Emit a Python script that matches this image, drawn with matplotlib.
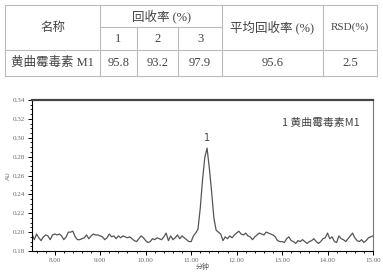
"""plot.py — ตารางอัตราการกู้คืน + โครมาโทแกรม"""
import numpy as np
import matplotlib
matplotlib.use("Agg")
import matplotlib.pyplot as plt
from matplotlib.ticker import MultipleLocator, FormatStrFormatter

# ───── Data ────────────────────────────────────────────────────────────────
table_header_name = "名称"
table_header_recovery = "回收率 (%)"
table_header_mean = "平均回收率 (%)"
table_header_rsd = "RSD(%)"
replicates = ["1", "2", "3"]
compound = "黄曲霉毒素 M1"
recoveries = [95.8, 93.2, 97.9]
mean_recovery = 95.6
rsd = 2.5

t_start, t_step = 7.5, 0.05
signal = [
    0.198, 0.192, 0.198, 0.194, 0.191, 0.195, 0.197, 0.196, 0.192, 0.197,
    0.198, 0.197, 0.198, 0.196, 0.192, 0.195, 0.200, 0.200, 0.201, 0.195,
    0.192, 0.192, 0.193, 0.194, 0.197, 0.193, 0.196, 0.198, 0.197, 0.197,
    0.196, 0.195, 0.192, 0.194, 0.198, 0.195, 0.196, 0.193, 0.196, 0.194,
    0.196, 0.195, 0.194, 0.195, 0.193, 0.191, 0.190, 0.193, 0.196, 0.194,
    0.191, 0.189, 0.190, 0.193, 0.192, 0.194, 0.193, 0.192, 0.195, 0.199,
    0.191, 0.196, 0.192, 0.194, 0.197, 0.193, 0.196, 0.194, 0.192, 0.190,
    0.190, 0.196, 0.199, 0.203, 0.225, 0.255, 0.279, 0.289, 0.268, 0.243,
    0.215, 0.202, 0.200, 0.198, 0.191, 0.195, 0.193, 0.196, 0.194, 0.197,
    0.199, 0.201, 0.198, 0.197, 0.199, 0.196, 0.195, 0.192, 0.195, 0.197,
    0.199, 0.198, 0.197, 0.200, 0.199, 0.198, 0.197, 0.195, 0.191, 0.190,
    0.190, 0.189, 0.193, 0.195, 0.191, 0.190, 0.188, 0.191, 0.190, 0.192,
    0.190, 0.188, 0.190, 0.191, 0.193, 0.190, 0.188, 0.190, 0.193, 0.194,
    0.199, 0.193, 0.195, 0.190, 0.189, 0.196, 0.193, 0.192, 0.190, 0.193,
    0.196, 0.199, 0.194, 0.191, 0.190, 0.192, 0.189, 0.191, 0.194, 0.195, 0.196,
]
peak_label = "1"
peak_time = 11.35
legend_text = "1 黄曲霉毒素M1"

CJK = ["Noto Sans CJK SC", "DejaVu Sans"]
SERIF_CJK = ["Liberation Serif", "Noto Sans CJK SC"]

W, H = 383, 279
fig = plt.figure(figsize=(W / 100, H / 100), dpi=100)

# ───── Table ───────────────────────────────────────────────────────────────
tab = fig.add_axes([0, 0, 1, 1])
tab.set_xlim(0, W)
tab.set_ylim(H, 0)
tab.axis("off")

cols = [5, 100, 137, 178, 222, 323, 377]
rows = [5, 27, 50, 76]
lc = "#bbbbbb"
lw = 0.8
for y in (rows[0], rows[2], rows[3]):
    tab.plot([cols[0], cols[-1]], [y, y], color=lc, lw=lw)
tab.plot([cols[1], cols[4]], [rows[1], rows[1]], color=lc, lw=lw)
for x in (cols[0], cols[1], cols[4], cols[5], cols[6]):
    tab.plot([x, x], [rows[0], rows[3]], color=lc, lw=lw)
for x in (cols[2], cols[3]):
    tab.plot([x, x], [rows[1], rows[3]], color=lc, lw=lw)

tc = "#444444"
fs = 9
kw = dict(ha="center", va="center", fontsize=fs, color=tc, fontweight="light")
mid12 = (rows[0] + rows[2]) / 2
tab.text((cols[0] + cols[1]) / 2, mid12, table_header_name, family=CJK, **kw)
tab.text((cols[1] + cols[4]) / 2, (rows[0] + rows[1]) / 2, table_header_recovery,
         family=SERIF_CJK, **kw)
for i, r in enumerate(replicates):
    tab.text((cols[1 + i] + cols[2 + i]) / 2, (rows[1] + rows[2]) / 2, r,
             family=SERIF_CJK, **kw)
tab.text((cols[4] + cols[5]) / 2, mid12, table_header_mean, family=SERIF_CJK, **kw)
tab.text((cols[5] + cols[6]) / 2, mid12, table_header_rsd, family=SERIF_CJK,
         **{**kw, "fontsize": fs - 1})

ry = (rows[2] + rows[3]) / 2
tab.text((cols[0] + cols[1]) / 2, ry, compound, family=SERIF_CJK, **kw)
for i, v in enumerate(recoveries):
    tab.text((cols[1 + i] + cols[2 + i]) / 2, ry, f"{v:.1f}", family=SERIF_CJK, **kw)
tab.text((cols[4] + cols[5]) / 2, ry, f"{mean_recovery:.1f}", family=SERIF_CJK, **kw)
tab.text((cols[5] + cols[6]) / 2, ry, f"{rsd:.1f}", family=SERIF_CJK, **kw)

# ───── Chromatogram ────────────────────────────────────────────────────────
ax = fig.add_axes([32 / W, 1 - 251 / H, (373 - 32) / W, (251 - 100) / H])
t = t_start + t_step * np.arange(len(signal))
ax.plot(t, signal, color="#555555", lw=0.9)

ax.set_xlim(7.5, 15.0)
ax.set_ylim(0.18, 0.34)
ax.xaxis.set_major_locator(MultipleLocator(1.0))
ax.xaxis.set_minor_locator(MultipleLocator(0.2))
ax.yaxis.set_major_locator(MultipleLocator(0.02))
ax.yaxis.set_minor_locator(MultipleLocator(0.005))
ax.xaxis.set_major_formatter(FormatStrFormatter("%.2f"))
ax.yaxis.set_major_formatter(FormatStrFormatter("%.2f"))
ax.tick_params(which="major", length=3, width=0.7, labelsize=5, labelcolor="#666666",
               pad=2)
ax.tick_params(which="minor", length=1.5, width=0.6)
for lab in ax.get_xticklabels() + ax.get_yticklabels():
    lab.set_family("Liberation Serif")

ax.spines["top"].set_linewidth(1.6)
ax.spines["top"].set_color("#444444")
ax.spines["right"].set_linewidth(0.8)
ax.spines["right"].set_color("#777777")
ax.spines["left"].set_linewidth(0.8)
ax.spines["bottom"].set_linewidth(0.8)

ax.set_xlabel("分钟", fontsize=5, family=CJK, color="#555555", labelpad=0)
ax.set_ylabel("AU", fontsize=4.5, color="#777777", labelpad=1)

ax.text(peak_time, 0.2995, peak_label, ha="center", va="center", fontsize=7,
        color="#444444")
ax.text(0.962, 0.85, legend_text, transform=ax.transAxes, ha="right", va="center",
        fontsize=7.8, family=CJK, color="#444444")

fig.savefig("out.png", dpi=100)
